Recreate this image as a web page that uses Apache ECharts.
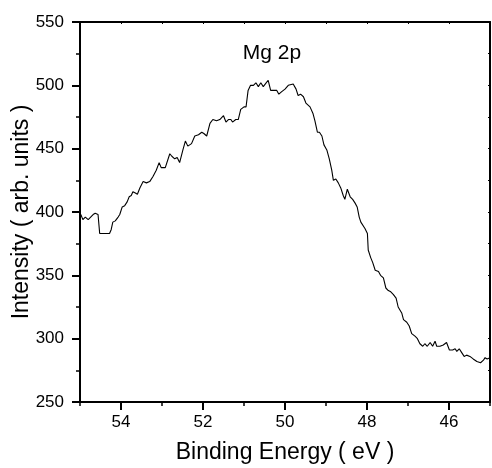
<!DOCTYPE html>
<html>
<head>
<meta charset="utf-8">
<script src="https://cdn.jsdelivr.net/npm/echarts@6/dist/echarts.min.js"></script>
<style>
html,body{margin:0;padding:0;background:#fff;}
#c{width:492px;height:468px;}
</style>
</head>
<body>
<div id="c"></div>
<script>
const energy = [
54.98,54.93,54.87,54.80,54.74,54.68,54.63,54.56,54.52,54.44,
54.36,54.28,54.24,54.20,54.14,54.07,54.03,53.97,53.91,53.85,
53.80,53.75,53.71,53.65,53.60,53.54,53.46,53.38,53.30,53.22,
53.14,53.07,53.02,52.92,52.81,52.76,52.69,52.63,52.57,52.49,
52.43,52.37,52.28,52.20,52.11,52.03,51.98,51.91,51.83,51.76,
51.67,51.59,51.50,51.44,51.38,51.32,51.28,51.20,51.14,51.08,
51.00,50.95,50.90,50.84,50.77,50.71,50.65,50.59,50.53,50.46,
50.41,50.35,50.27,50.20,50.15,50.08,50.00,49.92,49.88,49.80,
49.73,49.68,49.62,49.55,49.49,49.39,49.32,49.27,49.21,49.16,
49.10,49.05,48.98,48.92,48.86,48.82,48.76,48.70,48.64,48.58,
48.54,48.48,48.41,48.35,48.29,48.24,48.19,48.15,48.11,48.05,
47.99,47.97,47.91,47.86,47.80,47.72,47.67,47.60,47.54,47.48,
47.42,47.36,47.29,47.24,47.15,47.11,47.03,46.97,46.91,46.83,
46.77,46.71,46.64,46.59,46.53,46.46,46.40,46.34,46.30,46.22,
46.14,46.06,45.99,45.91,45.85,45.81,45.75,45.69,45.63,45.57,
45.49,45.41,45.32,45.23,45.16,45.12,45.07,45.00
];
const intensity = [
398,394,396,394,396,398,399,398,383,383,
383,383,386,392,393,396,398,404,405,408,
412,413,416,415,414,419,424,423,424,428,
433,439,435,435,446,444,442,443,439,449,
456,452,454,460,461,463,462,460,470,473,
472,473,476,471,473,473,471,473,473,481,
483,483,496,500,500,502,499,502,499,502,
504,496,496,496,493,495,497,500,501,501,
497,492,493,491,486,483,478,472,463,463,
460,453,449,442,433,425,426,423,419,413,
410,418,412,410,407,404,396,392,392,387,
383,370,364,360,354,353,350,348,340,338,
337,335,332,325,320,315,313,310,304,302,
300,296,294,296,294,297,294,298,294,294,
295,297,291,291,292,290,292,289,286,287,
286,284,282,281,283,285,284,285
];
const xMajorTicks = [54, 52, 50, 48, 46];
const xRange = [45, 55];
const yRange = [250, 550];
const yStep = 50;
const peakLabel = 'Mg 2p';
const xName = 'Binding Energy ( eV )';
const yName = 'Intensity ( arb. units )';

const FONT = '"Liberation Sans", Arial, sans-serif';
const chart = echarts.init(document.getElementById('c'), null, {renderer: 'canvas'});
const line = {show: true, lineStyle: {color: '#000', width: 2}};
const data = energy.map((e, i) => [e, intensity[i]]);

chart.setOption({
  animation: false,
  backgroundColor: '#fff',
  grid: {left: 80, right: 2, top: 22, bottom: 66, containLabel: false, outerBoundsMode: 'none'},
  xAxis: [
    {
      type: 'value', position: 'bottom', min: xRange[0], max: xRange[1], interval: 1, inverse: true,
      axisLine: line, splitLine: {show: false},
      axisTick: {show: true, inside: false, length: 4, lineStyle: {color: '#000', width: 1.5}},
      axisLabel: {show: true, customValues: xMajorTicks, margin: 12, fontSize: 17, color: '#000', fontFamily: FONT},
      name: xName, nameLocation: 'middle', nameGap: 39, nameMoveOverlap: false,
      nameTextStyle: {fontSize: 23, color: '#000', fontFamily: FONT}
    },
    {
      type: 'value', position: 'bottom', min: xRange[0], max: xRange[1], inverse: true,
      axisLine: {show: false}, splitLine: {show: false},
      axisTick: {show: true, customValues: xMajorTicks, inside: false, length: 8, lineStyle: {color: '#000', width: 2}},
      axisLabel: {show: false}
    },
    {
      type: 'value', position: 'top', min: xRange[0], max: xRange[1], interval: 1, inverse: true,
      axisLine: line, splitLine: {show: false},
      axisTick: {show: true, inside: true, length: 2, lineStyle: {color: '#000', width: 1}},
      axisLabel: {show: false}
    }
  ],
  yAxis: [
    {
      type: 'value', position: 'left', min: yRange[0], max: yRange[1], interval: yStep,
      axisLine: line, splitLine: {show: false},
      axisTick: {show: true, inside: false, length: 8, lineStyle: {color: '#000', width: 2}},
      minorTick: {show: true, splitNumber: 2, length: 4, lineStyle: {color: '#000', width: 1.5}},
      axisLabel: {margin: 16, fontSize: 17, color: '#000', fontFamily: FONT},
      name: yName, nameLocation: 'middle', nameGap: 47, nameMoveOverlap: false,
      nameTextStyle: {fontSize: 23, color: '#000', fontFamily: FONT}
    },
    {
      type: 'value', position: 'right', min: yRange[0], max: yRange[1], interval: yStep / 2,
      axisLine: line, splitLine: {show: false},
      axisTick: {show: true, inside: true, length: 2, lineStyle: {color: '#000', width: 1}},
      axisLabel: {show: false}
    }
  ],
  graphic: [{
    type: 'text', x: 272, y: 53,
    style: {text: peakLabel, fill: '#000', font: '21px ' + FONT, textAlign: 'center', textVerticalAlign: 'middle'}
  }],
  series: [{
    type: 'line', xAxisIndex: 0, yAxisIndex: 0, data: data,
    showSymbol: false, symbol: 'none', smooth: false,
    lineStyle: {color: '#000', width: 1.1}
  }]
});
</script>
</body>
</html>
